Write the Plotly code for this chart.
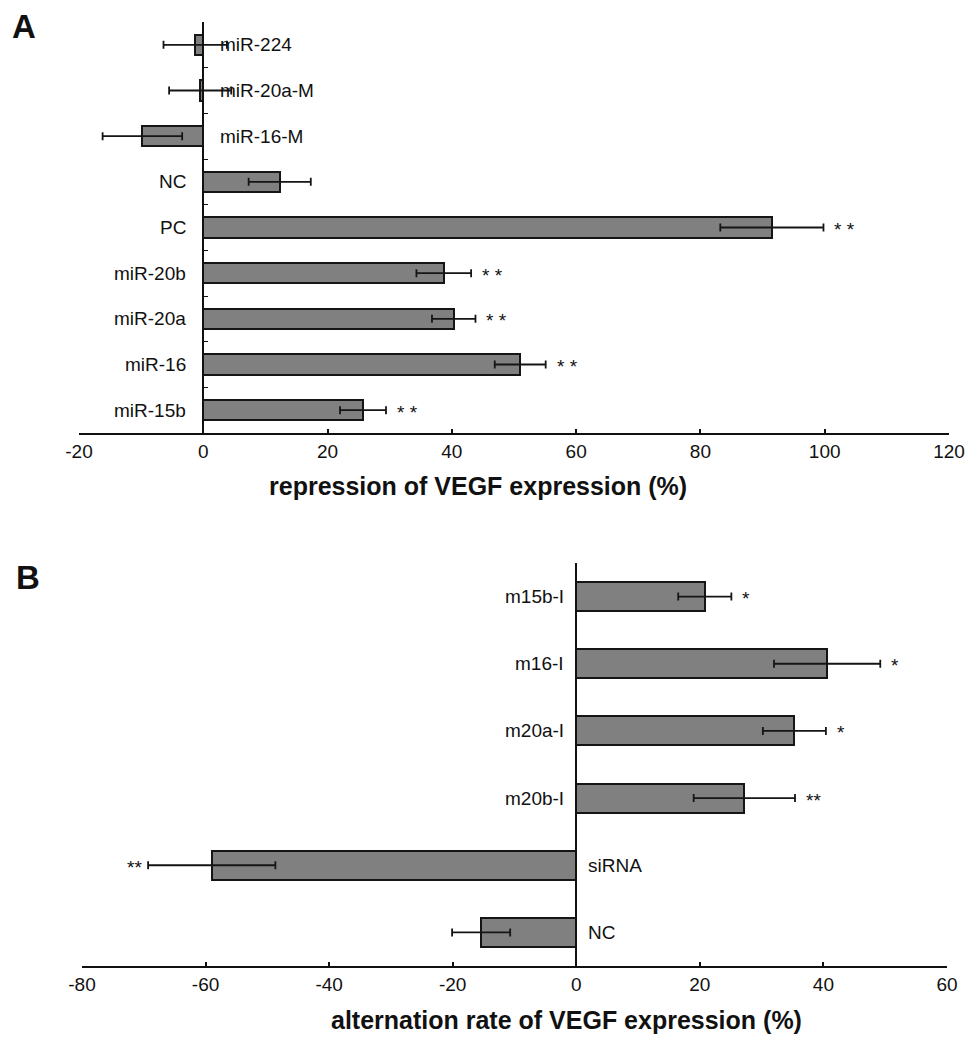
import plotly.graph_objects as go

# ---------------- Data ----------------
# Panel A (listed top to bottom)
cats_a = ["miR-224", "miR-20a-M", "miR-16-M", "NC", "PC", "miR-20b", "miR-20a", "miR-16", "miR-15b"]
vals_a = [-1.3, -0.5, -9.8, 12.3, 91.5, 38.7, 40.3, 51.0, 25.7]
errs_a = [5.1, 5.0, 6.4, 5.0, 8.3, 4.4, 3.5, 4.1, 3.7]
stars_a = ["", "", "", "", "* *", "* *", "* *", "* *", "* *"]

# Panel B (listed top to bottom)
cats_b = ["m15b-I", "m16-I", "m20a-I", "m20b-I", "siRNA", "NC"]
vals_b = [20.8, 40.6, 35.3, 27.2, -59.0, -15.4]
errs_b = [4.3, 8.6, 5.1, 8.2, 10.3, 4.7]
stars_b = ["*", "*", "*", "**", "**", ""]

xticks_a = [-20, 0, 20, 40, 60, 80, 100, 120]
xticks_b = [-80, -60, -40, -20, 0, 20, 40, 60]

FONT = "Liberation Sans, Arial, sans-serif"
W, H = 968, 1037

def px_x(p):
    return p / W

def px_y(p):
    return 1 - p / H

# domains
xa_dom = [px_x(79), px_x(949)]
ya_dom = [px_y(433), px_y(22)]
xb_dom = [px_x(82), px_x(947)]
yb_dom = [px_y(966), px_y(563)]

xa_rng = [-20, 120]
xb_rng = [-80, 60]

def zero_pos(dom, rng):
    return dom[0] + (0 - rng[0]) / (rng[1] - rng[0]) * (dom[1] - dom[0])

fig = go.Figure()

bar_style = dict(marker=dict(color="#808080", line=dict(color="#151515", width=2)))
err_style = dict(color="#151515", thickness=1.8, width=4)

fig.add_trace(go.Bar(
    y=cats_a, x=vals_a, orientation="h", width=0.44,
    error_x=dict(type="data", array=errs_a, visible=True, **err_style),
    xaxis="x", yaxis="y", showlegend=False, **bar_style))

fig.add_trace(go.Bar(
    y=cats_b, x=vals_b, orientation="h", width=0.43,
    error_x=dict(type="data", array=errs_b, visible=True, **err_style),
    xaxis="x2", yaxis="y2", showlegend=False, **bar_style))

annotations = []

def add_labels(cats, vals, errs, stars, xref, yref, shift, star_font):
    for c, v, e, s in zip(cats, vals, errs, stars):
        if v >= 0:
            annotations.append(dict(x=0, y=c, xref=xref, yref=yref, text=c, showarrow=False,
                                    xanchor="right", yanchor="middle", xshift=-shift,
                                    font=dict(family=FONT, size=19, color="#111")))
        else:
            annotations.append(dict(x=0, y=c, xref=xref, yref=yref, text=c, showarrow=False,
                                    xanchor="left", yanchor="middle", xshift=shift,
                                    font=dict(family=FONT, size=19, color="#111")))
        if s:
            if v >= 0:
                annotations.append(dict(x=v + e, y=c, xref=xref, yref=yref, text=s, showarrow=False,
                                        xanchor="left", yanchor="middle", xshift=9, yshift=-2,
                                        font=dict(family=FONT, size=star_font, color="#111")))
            else:
                annotations.append(dict(x=v - e, y=c, xref=xref, yref=yref, text=s, showarrow=False,
                                        xanchor="right", yanchor="middle", xshift=-4, yshift=-2,
                                        font=dict(family=FONT, size=star_font, color="#111")))

add_labels(cats_a, vals_a, errs_a, stars_a, "x", "y", 15, 19)
add_labels(cats_b, vals_b, errs_b, stars_b, "x2", "y2", 10, 19)

# axis titles and panel letters
annotations.append(dict(x=px_x(478), y=px_y(486), xref="paper", yref="paper",
                        text="<b>repression of VEGF expression (%)</b>", showarrow=False,
                        xanchor="center", yanchor="middle",
                        font=dict(family=FONT, size=25, color="#111")))
annotations.append(dict(x=px_x(566), y=px_y(1020), xref="paper", yref="paper",
                        text="<b>alternation rate of VEGF expression (%)</b>", showarrow=False,
                        xanchor="center", yanchor="middle",
                        font=dict(family=FONT, size=25, color="#111")))
annotations.append(dict(x=px_x(24), y=px_y(27), xref="paper", yref="paper",
                        text="<b>A</b>", showarrow=False, xanchor="center", yanchor="middle",
                        font=dict(family=FONT, size=33, color="#111")))
annotations.append(dict(x=px_x(28), y=px_y(577), xref="paper", yref="paper",
                        text="<b>B</b>", showarrow=False, xanchor="center", yanchor="middle",
                        font=dict(family=FONT, size=33, color="#111")))

xaxis_common = dict(showgrid=False, zeroline=False, showline=True, linecolor="#111", linewidth=2,
                    ticks="inside", ticklen=4, tickwidth=1.5, tickcolor="#111", automargin=False,
                    tickfont=dict(family=FONT, size=19, color="#111"))

fig.update_layout(
    width=W, height=H, autosize=False,
    margin=dict(l=0, r=0, t=0, b=0, pad=0, autoexpand=False),
    paper_bgcolor="white", plot_bgcolor="white",
    bargap=0,
    xaxis=dict(domain=xa_dom, range=xa_rng, tickvals=xticks_a,
               ticktext=[str(v) for v in xticks_a], anchor="y", **xaxis_common),
    yaxis=dict(domain=ya_dom, type="category", categoryorder="array", categoryarray=cats_a,
               range=[len(cats_a) - 0.5, -0.5], anchor="free", automargin=False,
               position=zero_pos(xa_dom, xa_rng), showgrid=False, zeroline=False,
               showline=True, linecolor="#111", linewidth=1.6, showticklabels=False,
               ticks="inside", tickson="boundaries", ticklen=4, tickwidth=1.2, tickcolor="#111"),
    xaxis2=dict(domain=xb_dom, range=xb_rng, tickvals=xticks_b,
                ticktext=[str(v) for v in xticks_b], anchor="y2", **xaxis_common),
    yaxis2=dict(domain=yb_dom, type="category", categoryorder="array", categoryarray=cats_b,
                range=[len(cats_b) - 0.5, -0.5], anchor="free", automargin=False,
                position=zero_pos(xb_dom, xb_rng), showgrid=False, zeroline=False,
                showline=True, linecolor="#111", linewidth=1.6, showticklabels=False, ticks=""),
    annotations=annotations,
)

fig.write_html(
    "out.html",
    config={"responsive": False, "displayModeBar": False},
    post_script="document.body.style.margin='0';document.body.style.overflow='hidden';",
)
